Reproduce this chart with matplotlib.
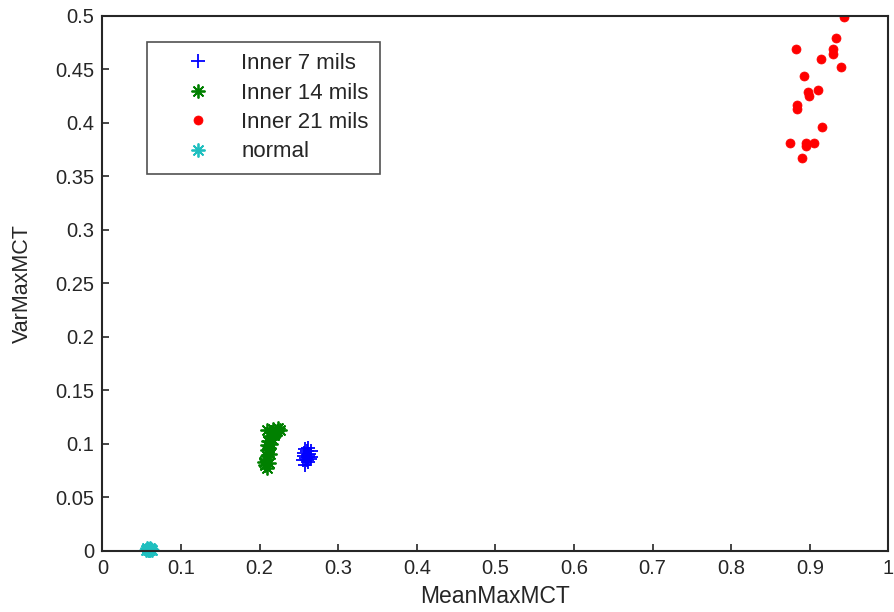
import matplotlib
matplotlib.use("Agg")
import matplotlib.pyplot as plt

plt.rcParams['font.family'] = ['Liberation Sans', 'DejaVu Sans']

# Inner 7 mils (blue '+')
in7_x = [0.258, 0.262, 0.255, 0.264, 0.259, 0.266, 0.257, 0.261, 0.263, 0.256,
         0.260, 0.265, 0.258, 0.261, 0.260, 0.262]
in7_y = [0.080, 0.083, 0.085, 0.086, 0.087, 0.088, 0.089, 0.090, 0.091, 0.092,
         0.093, 0.093, 0.095, 0.096, 0.085, 0.088]

# Inner 14 mils (green '*')
in14_x = [0.207, 0.210, 0.205, 0.212, 0.208, 0.210, 0.213, 0.209, 0.212, 0.210,
          0.214, 0.211, 0.216, 0.213, 0.218, 0.220, 0.214, 0.222, 0.226, 0.217,
          0.210, 0.223]
in14_y = [0.080, 0.078, 0.083, 0.082, 0.086, 0.089, 0.091, 0.094, 0.096, 0.099,
          0.100, 0.103, 0.105, 0.107, 0.108, 0.110, 0.111, 0.112, 0.113, 0.114,
          0.113, 0.115]

# Inner 21 mils (red '.')
in21_x = [0.944, 0.933, 0.882, 0.930, 0.930, 0.914, 0.939, 0.893, 0.898, 0.910,
          0.899, 0.884, 0.884, 0.916, 0.875, 0.895, 0.895, 0.905, 0.890]
in21_y = [0.499, 0.479, 0.469, 0.469, 0.464, 0.460, 0.452, 0.444, 0.429, 0.431,
          0.4255, 0.417, 0.413, 0.396, 0.381, 0.381, 0.378, 0.381, 0.367]

# normal (cyan '*')
norm_x = [0.056, 0.058, 0.060, 0.061, 0.059, 0.062, 0.057, 0.060, 0.063, 0.058]
norm_y = [0.001, 0.002, 0.0015, 0.003, 0.0008, 0.002, 0.0025, 0.001, 0.0012, 0.0005]

xticks = [0, 0.1, 0.2, 0.3, 0.4, 0.5, 0.6, 0.7, 0.8, 0.9, 1]
xticklabels = ['0', '0.1', '0.2', '0.3', '0.4', '0.5', '0.6', '0.7', '0.8', '0.9', '1']
yticks = [0, 0.05, 0.1, 0.15, 0.2, 0.25, 0.3, 0.35, 0.4, 0.45, 0.5]
yticklabels = ['0', '0.05', '0.1', '0.15', '0.2', '0.25', '0.3', '0.35', '0.4', '0.45', '0.5']

fig = plt.figure(figsize=(8.94, 6.12), dpi=100)
ax = fig.add_axes([0.1145, 0.0997, 0.8793, 0.8743])

ast = (8, 2, 0)
ax.plot(in7_x, in7_y, linestyle='none', marker='+', color='#0000ff', markersize=10,
        markeredgewidth=1.3, label='Inner 7 mils')
ax.plot(in14_x, in14_y, linestyle='none', marker=ast, color='#008000', markersize=10,
        markeredgewidth=1.3, label='Inner 14 mils')
ax.plot(in21_x, in21_y, linestyle='none', marker='o', color='#ff0000', markersize=6.5,
        markeredgewidth=0.5, label='Inner 21 mils')
ax.plot(norm_x, norm_y, linestyle='none', marker=ast, color='#1fbfbf', markersize=10,
        markeredgewidth=1.3, label='normal', clip_on=False)

ax.set_xlim(0, 1)
ax.set_ylim(0, 0.5)
ax.set_xticks(xticks)
ax.set_xticklabels(xticklabels)
ax.set_yticks(yticks)
ax.set_yticklabels(yticklabels)
ax.tick_params(direction='in', length=5, width=1.2, labelsize=14.5, top=False, right=False,
               colors='#262626')
ax.tick_params(axis='y', pad=6)
ax.tick_params(axis='x', pad=6)
for s in ax.spines.values():
    s.set_linewidth(1.5)
    s.set_color('#262626')
ax.set_xlabel('MeanMaxMCT', fontsize=16.5, labelpad=5, color='#262626')
ax.set_ylabel('VarMaxMCT', fontsize=15.5, labelpad=16, color='#262626')

leg = ax.legend(loc='upper left', bbox_to_anchor=(0.1644, 0.9314),
                bbox_transform=fig.transFigure, fontsize=16, frameon=True,
                fancybox=False, borderpad=0.5, labelspacing=0.38,
                handlelength=3.6, handletextpad=0.15, borderaxespad=0,
                markerscale=1.0)
leg.get_frame().set_edgecolor('#262626')
leg.get_frame().set_linewidth(1.2)
for t in leg.get_texts():
    t.set_color('#262626')

fig.savefig('out.png', dpi=100)
